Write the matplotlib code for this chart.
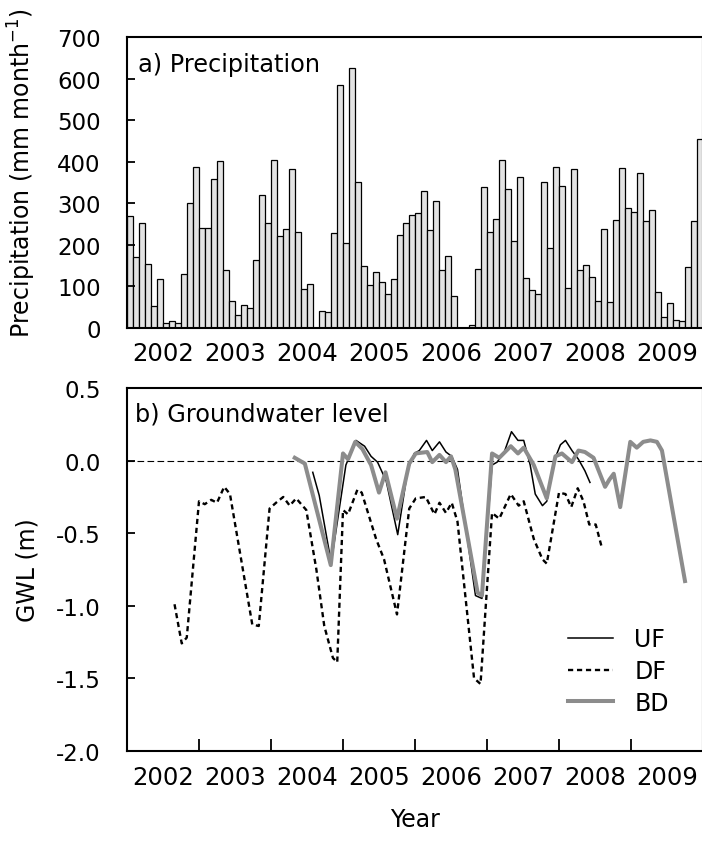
import numpy as np
import matplotlib.pyplot as plt
from matplotlib.ticker import FixedLocator, NullFormatter, FixedFormatter

plt.rcParams['axes.unicode_minus'] = False
plt.rcParams['font.family'] = 'DejaVu Sans'

# monthly precipitation Jan 2002 - Dec 2009 (mm/month)
precip = [269, 171, 252, 153, 53, 117, 11, 15, 11, 129, 301, 386,
          239, 239, 357, 401, 138, 65, 31, 54, 46, 164, 319, 253,
          404, 221, 238, 383, 230, 93, 106, 0, 40, 37, 229, 584,
          203, 625, 352, 149, 102, 135, 110, 82, 118, 222, 253, 272,
          277, 330, 235, 306, 138, 173, 77, 0, 0, 5, 140, 338,
          231, 261, 403, 335, 209, 363, 120, 91, 80, 352, 191, 386,
          342, 96, 382, 139, 150, 123, 64, 237, 62, 259, 384, 289,
          278, 372, 256, 283, 86, 25, 59, 17, 16, 147, 257, 454]
years = [2002, 2003, 2004, 2005, 2006, 2007, 2008, 2009]

# groundwater level (m), time in decimal years
uf_t = [2004.58, 2004.67, 2004.81, 2004.84, 2005.04, 2005.09, 2005.18, 2005.30,
        2005.39, 2005.48, 2005.60, 2005.76, 2005.90, 2005.99, 2006.06, 2006.16,
        2006.24, 2006.34, 2006.43, 2006.51, 2006.59, 2006.84, 2006.93, 2007.07,
        2007.14, 2007.24, 2007.34, 2007.43, 2007.51, 2007.60, 2007.67, 2007.77,
        2007.83, 2007.94, 2008.02, 2008.09, 2008.18, 2008.27, 2008.36, 2008.43]
uf_gwl = [-0.08, -0.24, -0.63, -0.69, -0.03, 0.03, 0.14, 0.10,
          0.03, -0.01, -0.14, -0.51, -0.06, 0.05, 0.07, 0.14,
          0.07, 0.13, 0.06, 0.03, -0.06, -0.93, -0.95, -0.03,
          -0.01, 0.06, 0.20, 0.14, 0.14, -0.03, -0.23, -0.31,
          -0.28, 0.01, 0.11, 0.14, 0.07, 0.01, -0.07, -0.15]

df_t = [2002.66, 2002.76, 2002.83, 2003.00, 2003.08, 2003.17, 2003.25, 2003.35,
        2003.43, 2003.74, 2003.83, 2003.98, 2004.07, 2004.17, 2004.26, 2004.35,
        2004.49, 2004.63, 2004.74, 2004.86, 2004.92, 2005.00, 2005.07, 2005.20,
        2005.26, 2005.46, 2005.57, 2005.75, 2005.92, 2006.01, 2006.15, 2006.27,
        2006.34, 2006.43, 2006.51, 2006.59, 2006.82, 2006.91, 2007.07, 2007.17,
        2007.33, 2007.44, 2007.51, 2007.65, 2007.77, 2007.83, 2008.00, 2008.09,
        2008.17, 2008.26, 2008.34, 2008.42, 2008.51, 2008.59]
df_gwl = [-0.99, -1.26, -1.22, -0.28, -0.30, -0.27, -0.29, -0.18,
          -0.23, -1.13, -1.14, -0.33, -0.29, -0.25, -0.31, -0.26,
          -0.34, -0.75, -1.14, -1.36, -1.39, -0.34, -0.37, -0.20,
          -0.22, -0.54, -0.68, -1.06, -0.33, -0.26, -0.25, -0.37,
          -0.29, -0.36, -0.29, -0.42, -1.50, -1.54, -0.36, -0.40,
          -0.23, -0.31, -0.28, -0.54, -0.68, -0.71, -0.22, -0.23,
          -0.32, -0.19, -0.28, -0.44, -0.44, -0.59]

bd_t = [2004.33, 2004.47, 2004.83, 2005.00, 2005.07, 2005.17, 2005.27, 2005.39,
        2005.50, 2005.59, 2005.75, 2005.92, 2006.01, 2006.17, 2006.24, 2006.34,
        2006.43, 2006.50, 2006.56, 2006.87, 2006.93, 2007.07, 2007.17, 2007.33,
        2007.43, 2007.51, 2007.65, 2007.83, 2007.95, 2008.04, 2008.18, 2008.27,
        2008.36, 2008.48, 2008.64, 2008.70, 2008.76, 2008.85, 2008.99, 2009.08,
        2009.17, 2009.27, 2009.36, 2009.43, 2009.75]
bd_gwl = [0.02, -0.02, -0.72, 0.05, 0.01, 0.13, 0.08, -0.03,
          -0.22, -0.08, -0.40, -0.02, 0.05, 0.06, -0.01, 0.04,
          -0.01, 0.03, -0.06, -0.91, -0.93, 0.05, 0.02, 0.10,
          0.05, 0.09, -0.03, -0.26, 0.03, 0.05, -0.01, 0.07,
          0.06, 0.02, -0.18, -0.13, -0.09, -0.32, 0.13, 0.09,
          0.13, 0.14, 0.13, 0.07, -0.83]

fig = plt.figure(figsize=(7.02, 8.45), dpi=100)
ax1 = fig.add_axes([127/702, 1-328.5/845, 576/702, 290.2/845])
ax2 = fig.add_axes([127/702, 1-751.7/845, 576/702, 362.5/845])

month_mid = 2002 + (np.arange(len(precip)) + 0.5) / 12
ax1.bar(month_mid, precip, width=1/12, color='#e3e3e3', edgecolor='black', linewidth=0.9)
ax1.set_ylim(0, 700)
ax1.set_yticks(range(0, 701, 100))
ax1.text(0.019, 0.885, 'a) Precipitation', transform=ax1.transAxes, fontsize=17.3)

ax2.axhline(0, color='black', lw=0.8, ls=(0, (6, 3)))
ax2.plot(uf_t, uf_gwl, color='black', lw=1.1, label='UF')
ax2.plot(df_t, df_gwl, color='black', lw=1.7, ls=(0, (2.2, 1.6)), label='DF')
ax2.plot(bd_t, bd_gwl, color='#8c8c8c', lw=2.9, label='BD')
ax2.set_ylim(-2.0, 0.5)
ax2.set_yticks(np.arange(-2.0, 0.51, 0.5))
ax2.set_yticklabels(['%.1f' % v for v in np.arange(-2.0, 0.51, 0.5)])
ax2.text(0.014, 0.91, 'b) Groundwater level', transform=ax2.transAxes, fontsize=17.3)
ax2.legend(loc='center left', bbox_to_anchor=(0.729, 0.22), frameon=False, fontsize=17,
           handlelength=1.9, handletextpad=0.9, labelspacing=0.33)

for ax in (ax1, ax2):
    ax.set_xlim(2002, 2010)
    ax.xaxis.set_major_locator(FixedLocator(years[1:]))
    ax.xaxis.set_major_formatter(NullFormatter())
    ax.xaxis.set_minor_locator(FixedLocator([y + 0.5 for y in years]))
    ax.xaxis.set_minor_formatter(FixedFormatter([str(y) for y in years]))
    ax.tick_params(axis='x', which='minor', length=0, pad=10, labelsize=17.5)
    ax.tick_params(axis='y', direction='in', length=6, width=1.3, pad=19, labelsize=16.5)
    for s in ax.spines.values():
        s.set_linewidth(1.5)
ax1.tick_params(axis='x', which='major', length=0)
ax2.tick_params(axis='x', which='major', direction='in', length=9, width=1.3)

fig.text(22/702, 1-338/845, 'Precipitation (mm month$^{-1}$)', rotation=90,
         ha='center', va='bottom', fontsize=17)
fig.text(27/702, 1-570/845, 'GWL (m)', rotation=90, ha='center', va='center', fontsize=17)
fig.text(415/702, 1-820/845, 'Year', ha='center', va='center', fontsize=17)

fig.savefig('out.png', dpi=100)
